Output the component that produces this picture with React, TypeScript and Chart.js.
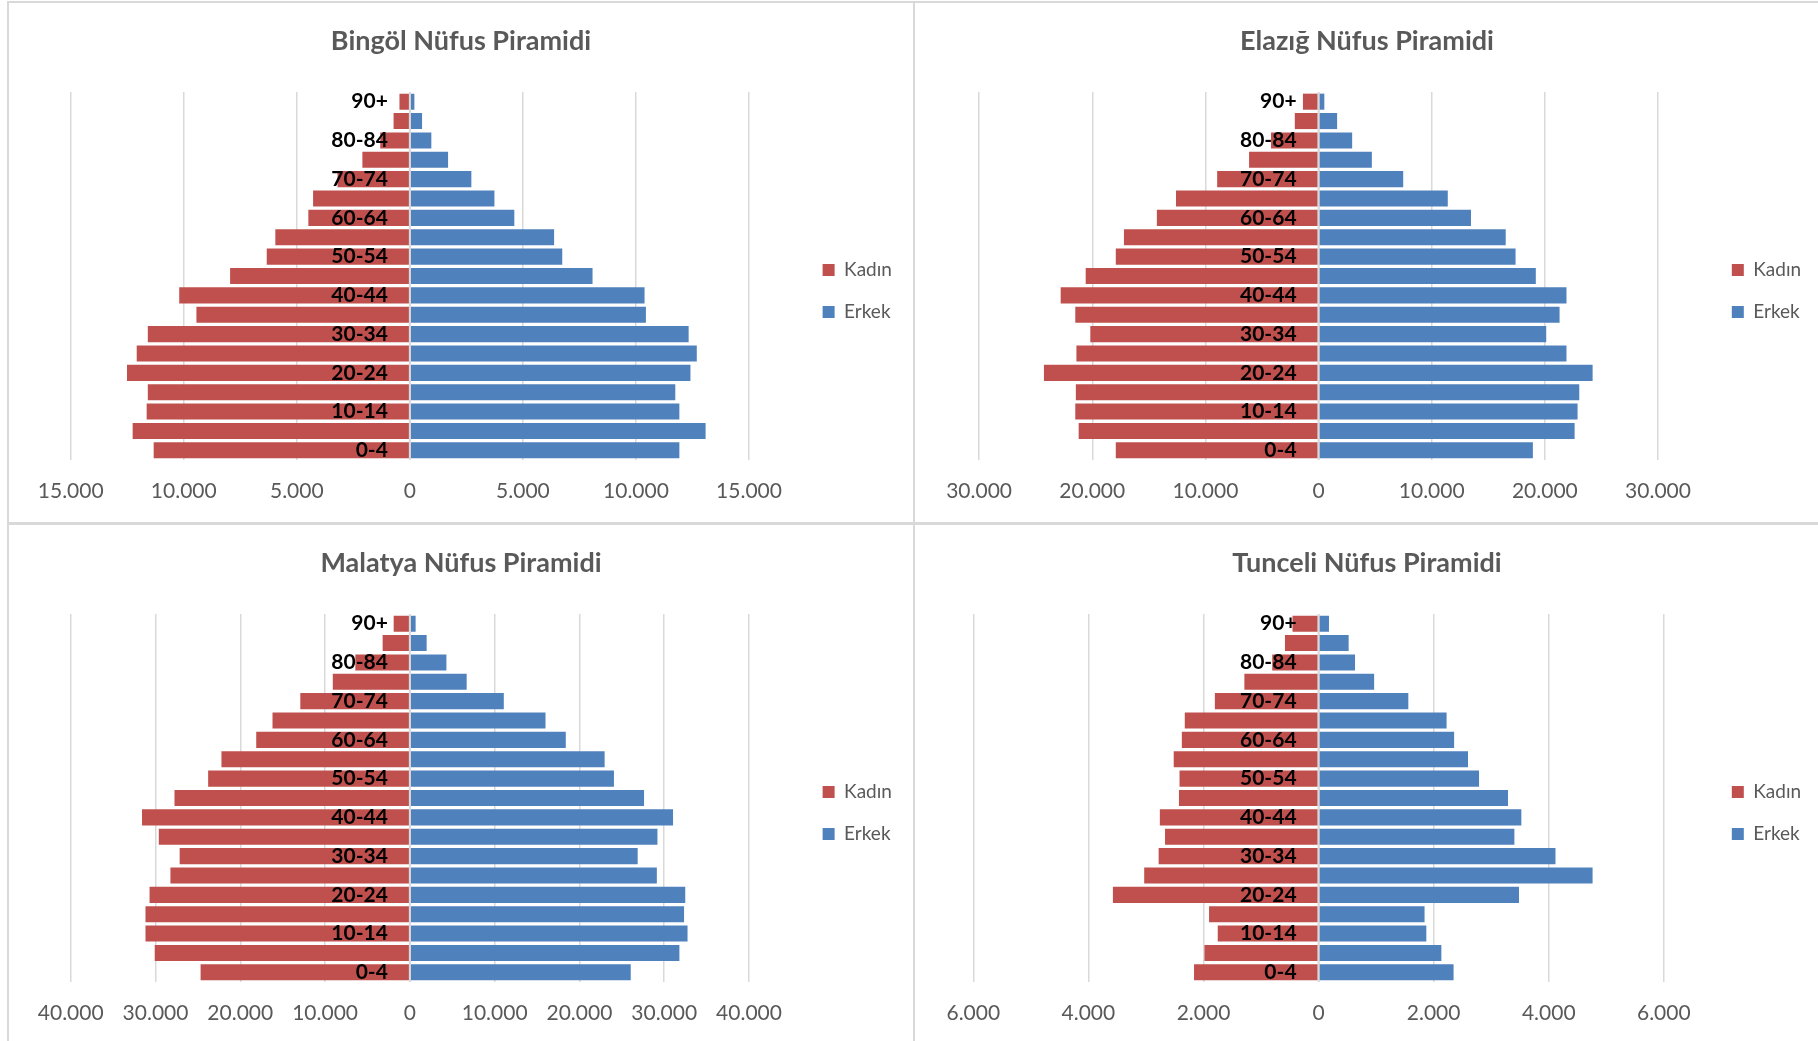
import React, { useEffect, useRef } from 'react';
import { Chart, registerables } from 'chart.js';

Chart.register(...registerables);

// Age groups, youngest first (drawn bottom to top)
const ageGroups = ['0-4', '5-9', '10-14', '15-19', '20-24', '25-29', '30-34', '35-39', '40-44', '45-49', '50-54', '55-59', '60-64', '65-69', '70-74', '75-79', '80-84', '85-89', '90+'];

const seriesNames = ['Kadın', 'Erkek'];

const bingolKadin = [11330, 12260, 11640, 11590, 12510, 12080, 11590, 9440, 10200, 7950, 6330, 5950, 4490, 4280, 3200, 2100, 1310, 720, 460];
const bingolErkek = [11920, 13080, 11920, 11740, 12410, 12690, 12330, 10440, 10380, 8080, 6740, 6380, 4620, 3740, 2720, 1690, 950, 540, 200];

const elazigKadin = [17920, 21200, 21500, 21450, 24270, 21400, 20170, 21500, 22790, 20580, 17920, 17200, 14290, 12600, 8960, 6140, 4200, 2100, 1380];
const elazigErkek = [18940, 22630, 22890, 23040, 24220, 21910, 20120, 21300, 21910, 19200, 17410, 16540, 13470, 11420, 7480, 4710, 2970, 1640, 510];

const malatyaKadin = [24680, 30090, 31180, 31180, 30700, 28240, 27150, 29610, 31590, 27760, 23790, 22220, 18120, 16200, 12920, 9090, 6430, 3210, 1910];
const malatyaErkek = [26050, 31790, 32750, 32340, 32480, 29130, 26870, 29200, 31040, 27620, 24070, 22970, 18390, 16000, 11080, 6700, 4310, 1980, 680];

const tunceliKadin = [2164, 1983, 1752, 1903, 3574, 3030, 2779, 2668, 2758, 2426, 2416, 2517, 2376, 2325, 1802, 1289, 805, 584, 453];
const tunceliErkek = [2346, 2134, 1873, 1842, 3483, 4762, 4117, 3403, 3524, 3292, 2789, 2597, 2356, 2225, 1560, 966, 634, 523, 181];

// Axis ranges
const bingolAxis = { max: 15000, step: 5000 };
const elazigAxis = { max: 30000, step: 10000 };
const malatyaAxis = { max: 40000, step: 10000 };
const tunceliAxis = { max: 6000, step: 2000 };

const KADIN_COLOR = '#C0504D';
const ERKEK_COLOR = '#4F81BD';
const GRID_COLOR = '#d9d9d9';
const TEXT_GRAY = '#595959';
const FONT = 'Lato, "Open Sans", sans-serif';

const fmtThousands = (v: number) => String(Math.abs(v)).replace(/\B(?=(\d{3})+(?!\d))/g, '.');

const pyramidPlugin = {
  id: 'pyramidDecor',
  afterDatasetsDraw(chart: any) {
    const { ctx, chartArea, scales } = chart;
    const x = scales.x;
    const y = scales.y;
    const x0 = x.getPixelForValue(0);
    ctx.save();
    // vertical axis line at zero, over the bars
    ctx.strokeStyle = GRID_COLOR;
    ctx.lineWidth = 2;
    ctx.beginPath();
    ctx.moveTo(x0, chartArea.top);
    ctx.lineTo(x0, chartArea.bottom);
    ctx.stroke();
    // category labels, every other one, just left of zero
    ctx.font = `bold 21px ${FONT}`;
    ctx.fillStyle = '#000';
    ctx.textAlign = 'right';
    ctx.textBaseline = 'middle';
    (chart.data.labels as string[]).forEach((lab, i) => {
      if (i % 2 !== 0) return;
      ctx.fillText(lab, x0 - 22, y.getPixelForValue(i));
    });
    ctx.restore();
  },
};

type Panel = {
  title: string;
  kadin: number[];
  erkek: number[];
  axis: { max: number; step: number };
  left: number;
  top: number;
  padL: number;
  padR: number;
  yW: number;
};

const panels: Panel[] = [
  { title: 'Bingöl Nüfus Piramidi', kadin: bingolKadin, erkek: bingolErkek, axis: bingolAxis, left: 7, top: 1, padL: 61.7, padR: 11.1, yW: 50.6 },
  { title: 'Elazığ Nüfus Piramidi', kadin: elazigKadin, erkek: elazigErkek, axis: elazigAxis, left: 913, top: 1, padL: 64.1, padR: 7.9, yW: 50.8 },
  { title: 'Malatya Nüfus Piramidi', kadin: malatyaKadin, erkek: malatyaErkek, axis: malatyaAxis, left: 7, top: 523, padL: 61.7, padR: 11.1, yW: 50.6 },
  { title: 'Tunceli Nüfus Piramidi', kadin: tunceliKadin, erkek: tunceliErkek, axis: tunceliAxis, left: 913, top: 523, padL: 58.3, padR: 7.9, yW: 45 },
];

const CANVAS_W = 904;
const CANVAS_H = 519;

const spacerScale = (width: number, weight: number) => ({
  type: 'linear',
  position: 'right',
  weight,
  display: true,
  ticks: { display: false },
  grid: { display: false },
  border: { display: false },
  afterFit: (s: any) => {
    s.width = width;
  },
});

function PyramidChart({ p }: { p: Panel }) {
  const ref = useRef<HTMLCanvasElement | null>(null);
  useEffect(() => {
    if (!ref.current) return;
    const chart = new Chart(ref.current, {
      type: 'bar',
      data: {
        labels: ageGroups,
        datasets: [
          {
            label: seriesNames[0],
            data: p.kadin.map((v) => -v),
            backgroundColor: KADIN_COLOR,
            borderWidth: 0,
            barPercentage: 0.83,
            categoryPercentage: 1,
            xAxisID: 'x',
            yAxisID: 'y',
          },
          {
            label: seriesNames[1],
            data: p.erkek,
            backgroundColor: ERKEK_COLOR,
            borderWidth: 0,
            barPercentage: 0.83,
            categoryPercentage: 1,
            xAxisID: 'x',
            yAxisID: 'y',
          },
        ],
      },
      options: {
        indexAxis: 'y',
        responsive: false,
        animation: false,
        devicePixelRatio: 1,
        layout: { padding: { left: 0, right: 0, top: 0, bottom: 0 } },
        scales: {
          x: {
            stacked: true,
            min: -p.axis.max,
            max: p.axis.max,
            ticks: {
              stepSize: p.axis.step,
              color: TEXT_GRAY,
              font: { family: FONT, size: 21 },
              padding: 18.4,
              callback: (v: any) => fmtThousands(Number(v)),
              maxRotation: 0,
            },
            grid: { color: GRID_COLOR, lineWidth: 1.5, drawTicks: false },
            border: { display: false },
          },
          y: {
            type: 'category',
            stacked: true,
            reverse: true,
            position: 'left',
            ticks: { display: false },
            grid: { display: false },
            border: { display: false },
            afterFit: (s: any) => {
              s.width = p.padL;
            },
          },
          gapRight: spacerScale(p.yW, 0),
          edgeRight: spacerScale(p.padR, 2000),
        },
        plugins: {
          title: {
            display: true,
            text: p.title,
            color: TEXT_GRAY,
            font: { family: FONT, size: 27, weight: 'bold' },
            padding: { top: 22.4, bottom: 34.2 },
          },
          legend: {
            position: 'right',
            align: 'center',
            fullSize: false,
            title: { display: true, text: '', font: { size: 30, lineHeight: 1 }, padding: 0 },
            labels: {
              boxWidth: 12,
              boxHeight: 12,
              padding: 23,
              color: TEXT_GRAY,
              font: { family: FONT, size: 19 },
            },
          },
          tooltip: { enabled: false },
        },
      } as any,
      plugins: [pyramidPlugin],
    });
    return () => chart.destroy();
  }, [p]);
  return (
    <div
      style={{
        position: 'absolute',
        left: p.left,
        top: p.top,
        width: CANVAS_W + 4,
        height: CANVAS_H + 4,
        border: `2px solid ${GRID_COLOR}`,
        boxSizing: 'border-box',
        background: '#fff',
      }}
    >
      <canvas ref={ref} width={CANVAS_W} height={CANVAS_H} style={{ display: 'block' }} />
    </div>
  );
}

export default function App() {
  return (
    <div style={{ position: 'absolute', left: 0, top: 0, width: 1818, height: 1041, overflow: 'hidden', background: '#fff' }}>
      {panels.map((p) => (
        <PyramidChart key={p.title} p={p} />
      ))}
    </div>
  );
}
